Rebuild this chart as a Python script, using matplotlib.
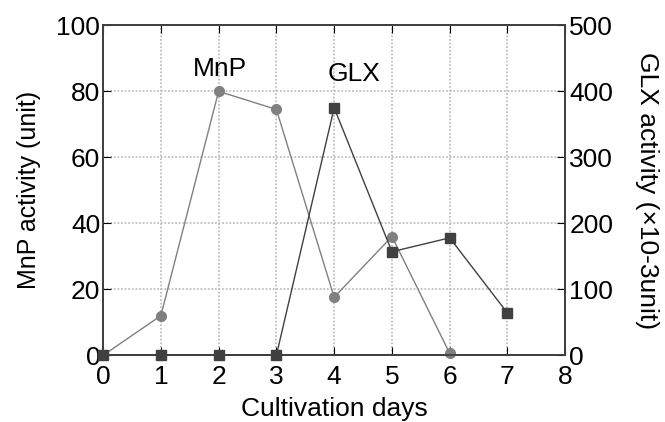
import matplotlib.pyplot as plt

# data
days = [0, 1, 2, 3, 4, 5, 6, 7]
mnp_days = [0, 1, 2, 3, 4, 5, 6]
mnp = [0, 12, 80, 74.5, 17.6, 36, 0.6]
glx = [0, 0, 0, 0, 375, 157, 178, 64]

plt.rcParams['font.family'] = ['Liberation Sans', 'DejaVu Sans']
plt.rcParams['font.size'] = 19

fig, ax = plt.subplots(figsize=(6.65, 4.22), dpi=100)
fig.subplots_adjust(left=0.155, right=0.85, top=0.94, bottom=0.158)
ax2 = ax.twinx()

ax.plot(mnp_days, mnp, '-o', color='#808080', lw=1, ms=7, zorder=3, clip_on=False)
ax2.plot(days, glx, '-s', color='#404040', lw=1, ms=7, zorder=3, clip_on=False)

ax.set_xlim(0, 8)
ax.set_ylim(0, 100)
ax2.set_ylim(0, 500)
ax.set_xticks(range(9))
ax.set_yticks(range(0, 101, 20))
ax2.set_yticks(range(0, 501, 100))
ax.grid(True, ls=(0, (1, 1)), color='#c0c0c0', lw=1.3)
ax.tick_params(direction='in', top=True, length=6, pad=2)
ax.tick_params(axis='x', pad=7)
ax2.tick_params(direction='in', length=6, pad=3)
for a in (ax, ax2):
    for s in a.spines.values():
        s.set_color('#404040')
        s.set_linewidth(1.3)

ax.set_xlabel('Cultivation days', labelpad=6)
ax.set_ylabel('MnP activity (unit)', fontsize=18, labelpad=11)
ax2.set_ylabel('GLX activity (×10-3unit)', rotation=270, labelpad=33)

ax.text(2.03, 83, 'MnP', ha='center', va='bottom')
ax.text(4.34, 81.5, 'GLX', ha='center', va='bottom')

fig.savefig('out.png')
